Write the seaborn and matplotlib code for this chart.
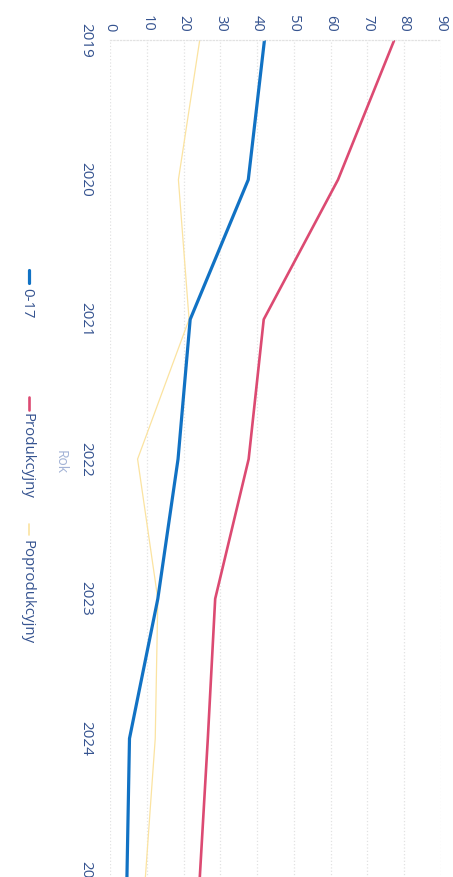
import pandas as pd
import matplotlib
matplotlib.use('Agg')
import matplotlib.pyplot as plt
import seaborn as sns
from matplotlib.lines import Line2D

years = [2019, 2020, 2021, 2022, 2023, 2024, 2025]
age_0_17 = [42.0, 37.6, 21.8, 18.5, 13.0, 5.3, 4.6]
produkcyjny = [77.3, 62.0, 41.8, 37.7, 28.6, 26.6, 24.4]
poprodukcyjny = [24.4, 18.6, 21.5, 7.5, 13.0, 12.3, 9.6]
series_names = ['0-17', 'Produkcyjny', 'Poprodukcyjny']
value_ticks = list(range(0, 100, 10))

colors = {'0-17': '#1172c4', 'Produkcyjny': '#dc4a72', 'Poprodukcyjny': '#fbe3a0'}
widths = {'0-17': 2.3, 'Produkcyjny': 1.9, 'Poprodukcyjny': 0.9}
tick_color = '#34528f'

df = pd.concat([
    pd.DataFrame({'Rok': years, 'Wartosc': vals, 'Grupa': name})
    for name, vals in zip(series_names, [age_0_17, produkcyjny, poprodukcyjny])
])

sns.set_style('white')
plt.rcParams['font.family'] = ['Open Sans', 'DejaVu Sans']

W, H = 453, 877
px_per_year = 139.7
extra = 12  # axes run a little past the bottom edge, so 2025 is cut like in the scan
fig = plt.figure(figsize=(W / 100, H / 100), dpi=100)
ax = fig.add_axes([110 / W, -extra / H, 331 / W, (H - 40 + extra) / H])

# chart is drawn turned by 90 degrees: years run downward, values to the right
for name in ['Poprodukcyjny', '0-17', 'Produkcyjny']:
    sns.lineplot(data=df[df['Grupa'] == name], x='Wartosc', y='Rok', orient='y',
                 sort=False, color=colors[name], linewidth=widths[name], ax=ax)

ax.set_xlim(0, 90)
ax.set_ylim(2019 + (H - 40 + extra) / px_per_year, 2019)
ax.set_xticks(value_ticks)
ax.set_xticklabels([str(v) for v in value_ticks])
ax.xaxis.tick_top()
ax.set_yticks(years)
ax.set_yticklabels([str(y) for y in years], va='center')
ax.tick_params(axis='x', length=0, pad=6, labelrotation=270, labelcolor=tick_color, labelsize=10.5)
ax.tick_params(axis='y', length=0, pad=12, labelrotation=270, labelcolor=tick_color, labelsize=11)
ax.set_xlabel('')
ax.set_ylabel('')
ax.grid(axis='x', color='#e2e2e2', linestyle=':', linewidth=0.9)
ax.grid(axis='y', visible=False)
for side in ['right', 'bottom', 'left']:
    ax.spines[side].set_visible(False)
ax.spines['top'].set_color('#e2e2e2')
ax.spines['top'].set_linestyle(':')
ax.spines['top'].set_linewidth(0.9)

# axis title
fig.text(60 / W, 1 - 462 / H, 'Rok', rotation=270, ha='center', va='center',
         color='#a3b3d6', fontsize=10)

# legend, turned like the chart
legend_pos = {'0-17': (270, 283, 288), 'Produkcyjny': (397, 410, 413), 'Poprodukcyjny': (524, 535, 540)}
for name in series_names:
    y0, y1, yt = legend_pos[name]
    fig.add_artist(Line2D([29 / W, 29 / W], [1 - y0 / H, 1 - y1 / H], color=colors[name],
                          linewidth=max(widths[name], 1.2), transform=fig.transFigure))
    fig.text(27 / W, 1 - yt / H, name, rotation=270, ha='center', va='top',
             color=tick_color, fontsize=10.8)

fig.savefig('out.png', dpi=100)
